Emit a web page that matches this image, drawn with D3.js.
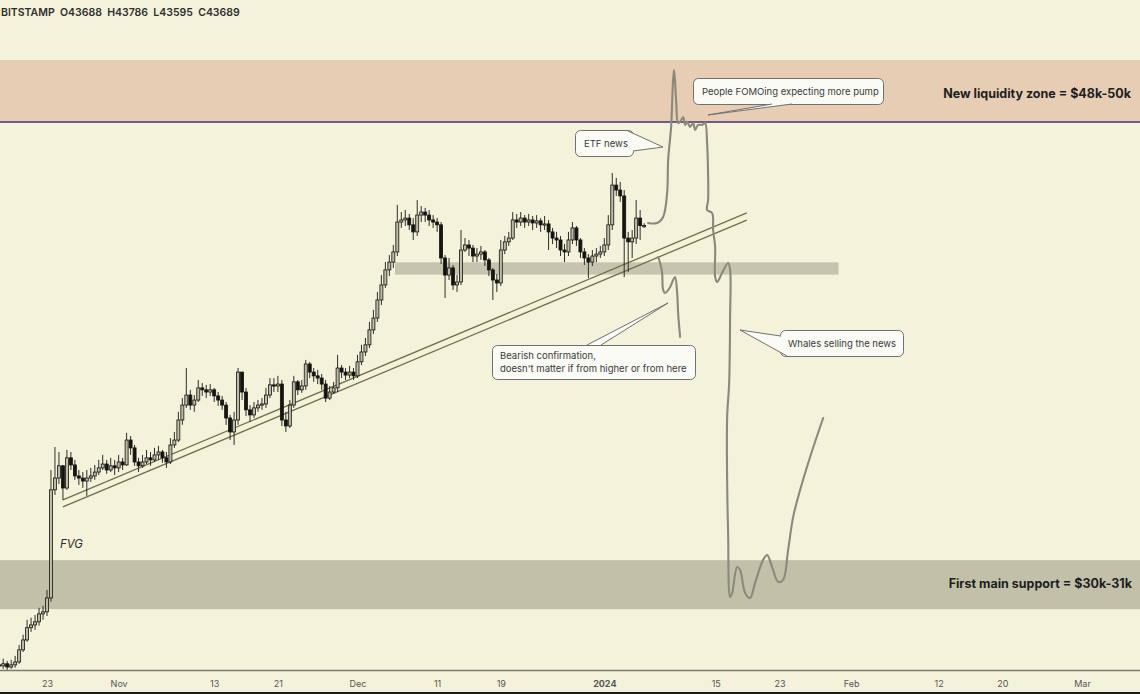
<!DOCTYPE html>
<html><head><meta charset="utf-8">
<script src="https://cdn.jsdelivr.net/npm/d3@7"></script>
<style>
html,body{margin:0;padding:0;background:#f4f2da;}
svg{display:block;}
text{font-family:Inter,"Liberation Sans",Arial,sans-serif;}
</style></head><body>
<svg id="chart" width="1140" height="694"></svg>
<script>
// ---------- DATA ----------
const symbol = "BITSTAMP";
const lastOHLC = {o: 43688, h: 43786, l: 43595, c: 43689};
const candleStart = "2023-10-17T00:00:00Z";   // 12h candles
const firstOpen = 28460;
const closes = [
28430,28490,28400,28460,28540,28880,29160,29510,29590,29680,
29910,29970,30380,33760,34150,34560,33820,34830,34590,34220,
34150,34050,34150,34220,34350,34490,34620,34420,34560,34490,
34690,34590,35440,35170,34690,34560,34690,34830,34760,34930,
35030,34830,34690,35270,35440,36140,36670,37030,36670,36850,
37290,37220,37140,37220,37000,36850,36670,36210,35720,36140,
37870,37140,36500,36320,36570,36670,36710,37030,37400,37360,
37430,36140,35930,36670,37510,37220,37360,38170,37870,37730,
37650,37430,36920,37140,37290,38020,37870,37760,37870,37730,
38250,38620,38890,39460,39920,40630,41230,41840,42160,42580,
43840,43930,44010,43720,43420,44140,44270,44140,43930,43840,
43720,42330,41630,41920,41230,41350,42660,42870,42740,42410,
42490,42580,42250,41840,41430,41310,42660,43000,43160,43930,
43840,44010,43840,43930,43800,43890,43720,43760,43420,43160,
43080,42660,42580,43080,43590,43080,42580,42330,42160,42410,
42490,42580,42870,43720,45450,45230,44970,43160,43000,43160,
44010,43688,43689];
const highs = [
28600,28630,28570,28600,28710,29020,29310,29740,29800,29880,
30090,30150,30620,34420,35200,35030,34590,35100,35030,34760,
34420,34350,34420,34490,34590,34760,34930,34760,34830,34760,
34930,34830,35690,35580,35270,34830,34930,35100,35030,35170,
35240,35100,35030,35510,35720,36430,36920,38020,37220,37030,
37580,37470,37400,37430,37290,37140,37000,36780,36320,36430,
38020,37870,37290,36670,36780,36850,36920,37290,37650,37650,
37730,37580,36430,36850,37730,37580,37580,38320,38250,38020,
37950,37800,37580,37360,37510,38510,38130,38020,38100,38020,
38510,38890,39150,39770,40240,40950,41630,42160,42450,42870,
44580,44270,44360,44190,44010,44790,44530,44450,44360,44140,
44010,43840,42450,42330,42040,41630,43500,43160,43080,42870,
42740,42830,42660,42330,41920,41670,43080,43250,43420,44270,
44190,44270,44140,44190,44100,44140,44010,44100,43930,43590,
43420,43250,42910,43420,43840,43670,43160,42740,42490,42660,
42740,42830,43160,44140,45990,45770,45590,45230,43420,43500,
44790,44360,43786];
const lows = [
28320,28350,28320,28350,28380,28490,28820,29110,29390,29450,
29570,29740,29850,30270,33590,33950,33430,33760,34420,34090,
33920,33820,33560,34020,34090,34250,34420,34290,34350,34250,
34350,34420,34560,34930,34560,34350,34490,34620,34560,34690,
34760,34660,34490,34620,35170,35370,35970,36570,36500,36430,
36780,37000,36920,37000,36780,36640,36500,35970,35440,35270,
35970,36850,36280,36070,36210,36430,36500,36570,36920,37140,
37140,35930,35720,35860,36570,37030,37110,37220,37650,37510,
37430,37220,36780,36850,37070,37140,37650,37580,37650,37580,
37650,38130,38470,38770,39310,39770,40430,41110,41590,41920,
42410,43590,43670,43500,43080,43250,43840,43840,43670,43590,
43420,42080,40710,41430,41030,40950,41230,42580,42410,42160,
42160,42250,42000,41590,40630,40950,41190,42490,42830,43080,
43590,43670,43590,43670,43500,43590,43420,43500,42660,42910,
42740,42410,42160,42410,42910,42830,42330,42040,41510,42000,
42160,42330,42410,42660,43500,44970,44710,41550,41760,42330,
42910,43080,43595];

// x-axis ticks
const tickDates = ["2023-10-23","2023-11-01","2023-11-13","2023-11-21","2023-12-01","2023-12-11","2023-12-19",
                   "2024-01-01","2024-01-15","2024-01-23","2024-02-01","2024-02-12","2024-02-20","2024-03-01"];
const tickLabels = ["23","Nov","13","21","Dec","11","19","2024","15","23","Feb","12","20","Mar"];

// price zones [low, high]
const liquidityZone = [48340, 51350];
const supportZone = [30050, 31520];
const midBand = [41650, 42150];
const midBandDates = ["2023-12-05T17:00:00Z", "2024-01-30T10:00:00Z"];

// rising channel (two parallel lines)
const channelDates = ["2023-10-25T00:00:00Z", "2024-01-18T21:30:00Z"];
const channelUpper = [33430, 44230];
const channelLower = [33200, 43925];

// hand-drawn scenario (days after 2023-10-23, price)
const pathAnchor = "2023-10-23T00:00:00Z";
const scenarioDays = [75.50,76.63,77.39,77.89,78.02,78.39,78.64,78.77,79.02,79.27,79.52,79.90,80.15,80.40,80.78,81.16,
  81.41,81.78,82.29,82.66,82.91,83.04,83.04,82.91,83.54,83.67,83.92,83.92,84.17,84.80,85.55,85.80,85.80,85.68,85.43,
  85.43,85.55,85.80,86.06,86.68,87.06,87.69,88.32,88.94,89.95,90.45,91.08,91.83,92.46,93.09,93.72,94.60,95.85,97.49];
const scenarioPrices = [43800,43800,44060,45100,46580,48100,50360,50850,49380,48290,48340,48570,48200,48340,48100,48290,
  47960,48200,48200,48290,47360,45810,44790,44360,44230,43500,42790,41550,41350,41720,42120,41840,39960,37470,36250,
  33990,32370,30410,30530,31310,31220,30530,30380,30830,31530,31680,31310,30860,30920,31840,32880,33760,34860,36210];
const altDays = [76.76,77.01,77.26,77.39,77.64,78.27,78.64,78.89,79.15,79.27,79.52];
const altPrices = [42370,42120,41720,41030,40910,41150,41430,41550,40910,40120,39190];

// ---------- LAYOUT ----------
const W = 1140, H = 694, axisY = 670;
const svg = d3.select("#chart");
const x = d3.scaleUtc().domain([new Date("2023-10-23T00:00:00Z"), new Date("2024-03-01T00:00:00Z")]).range([47, 1082]);
const y = d3.scaleLog().domain([26000, 52000]).range([757.5, 47.1]);

svg.append("rect").attr("width", W).attr("height", H).attr("fill", "#f4f2da");

const plot = svg.append("g");
plot.append("clipPath").attr("id","clip").append("rect").attr("x",0).attr("y",0).attr("width",W).attr("height",axisY);
const g = plot.append("g").attr("clip-path","url(#clip)");

// zones
g.append("rect").attr("x",0).attr("width",W)
  .attr("y", y(liquidityZone[1])).attr("height", y(liquidityZone[0]) - y(liquidityZone[1]))
  .attr("fill","#e6cdb4");
g.append("rect").attr("x",0).attr("width",W)
  .attr("y", y(supportZone[1])).attr("height", y(supportZone[0]) - y(supportZone[1]))
  .attr("fill","#c2c0a8");
g.append("rect").attr("x", x(new Date(midBandDates[0]))).attr("width", x(new Date(midBandDates[1])) - x(new Date(midBandDates[0])))
  .attr("y", y(midBand[1])).attr("height", y(midBand[0]) - y(midBand[1]))
  .attr("fill","#c6c4ae");
g.append("line").attr("x1",0).attr("x2",W).attr("y1", y(liquidityZone[0])).attr("y2", y(liquidityZone[0]))
  .attr("stroke","#6e5a8c").attr("stroke-width",2);

// channel
const cd = channelDates.map(d => new Date(d));
[channelUpper, channelLower].forEach(p => {
  g.append("line").attr("x1", x(cd[0])).attr("y1", y(p[0])).attr("x2", x(cd[1])).attr("y2", y(p[1]))
    .attr("stroke","#6f6e48").attr("stroke-width",1.3);
});

// candles
const t0 = new Date(candleStart).getTime();
const candles = closes.map((c, i) => ({
  t: new Date(t0 + i * 12 * 3600e3),
  o: i === 0 ? firstOpen : closes[i - 1],
  h: highs[i], l: lows[i], c: c
}));
const bw = 3;
const cg = g.append("g");
cg.selectAll("line.wick").data(candles).join("line")
  .attr("x1", d => x(d.t)).attr("x2", d => x(d.t))
  .attr("y1", d => y(d.h)).attr("y2", d => y(d.l))
  .attr("stroke","#2e2e28").attr("stroke-width",1);
cg.selectAll("rect.body").data(candles).join("rect")
  .attr("x", d => x(d.t) - bw/2).attr("width", bw)
  .attr("y", d => y(Math.max(d.o, d.c)))
  .attr("height", d => Math.max(1.2, Math.abs(y(d.o) - y(d.c))))
  .attr("fill", d => d.c >= d.o ? "#bdbba5" : "#141410")
  .attr("stroke", "#141410").attr("stroke-width", 0.8);

// scenario drawings
const anchor = new Date(pathAnchor).getTime();
const line = d3.line().x(d => x(new Date(anchor + d[0] * 864e5))).y(d => y(d[1])).curve(d3.curveCatmullRom.alpha(0.5));
g.append("path").attr("d", line(scenarioDays.map((d,i)=>[d, scenarioPrices[i]])))
  .attr("fill","none").attr("stroke","#8a897c").attr("stroke-width",2.1).attr("stroke-linejoin","round").attr("stroke-linecap","round");
g.append("path").attr("d", line(altDays.map((d,i)=>[d, altPrices[i]])))
  .attr("fill","none").attr("stroke","#8a897c").attr("stroke-width",2.1).attr("stroke-linejoin","round").attr("stroke-linecap","round");

// callouts (layout in px)
const callouts = [
  {box:[575,130,58,26], tail:[[628,131],[663,147],[633,151]], lines:["ETF news"], tx:584, ty:[147]},
  {box:[693,78,190,26], tail:[[772,104],[708,115],[792,104]], lines:["People FOMOing expecting more pump"], tx:702, ty:[95]},
  {box:[492,345,203,34], tail:[[587,345],[668,303],[601,345]], lines:["Bearish confirmation,","doesn't matter if from higher or from here"], tx:500, ty:[359,372]},
  {box:[780,330,123,26], tail:[[780.5,336],[740,330],[787,356]], lines:["Whales selling the news"], tx:788, ty:[347]}
];
callouts.forEach(c => {
  const [bx,by,bw2,bh] = c.box;
  g.append("rect").attr("x",bx+0.5).attr("y",by+0.5).attr("width",bw2).attr("height",bh).attr("rx",5)
    .attr("fill","#fbfbf5").attr("stroke","#707070").attr("stroke-width",1);
  g.append("path").attr("d", "M"+c.tail.map(p=>p.join(",")).join("L"))
    .attr("fill","#fbfbf5").attr("stroke","#707070").attr("stroke-width",1).attr("stroke-linejoin","miter");
  c.lines.forEach((t,i) => {
    g.append("text").attr("x",c.tx).attr("y",c.ty[i]).text(t)
      .attr("font-size",9.5).attr("fill","#3a3a3a");
  });
});

// zone labels
g.append("text").attr("x",1131).attr("y",98).attr("text-anchor","end").attr("font-size",12.5).attr("font-weight",700)
  .attr("fill","#1e1e1e").text("New liquidity zone = $48k-50k");
g.append("text").attr("x",1132).attr("y",588).attr("text-anchor","end").attr("font-size",12.5).attr("font-weight",700)
  .attr("fill","#1e1e1e").text("First main support = $30k-31k");
g.append("text").attr("x",60).attr("y",548).attr("font-size",11.5).attr("font-style","italic")
  .attr("fill","#2a2a2a").text("FVG");

// header
svg.append("text").attr("x",1).attr("y",16).attr("font-size",10.5).attr("font-weight",600).attr("fill","#2e2e2e")
  .attr("xml:space","preserve")
  .text(`${symbol}  O${lastOHLC.o}  H${lastOHLC.h}  L${lastOHLC.l}  C${lastOHLC.c}`);

// x axis
svg.append("line").attr("x1",0).attr("x2",W).attr("y1",axisY+0.5).attr("y2",axisY+0.5).attr("stroke","#7d7c70").attr("stroke-width",1.5);
const axis = d3.axisBottom(x).tickValues(tickDates.map(d => new Date(d + "T00:00:00Z")))
  .tickFormat((d,i) => tickLabels[i]).tickSize(0);
const ag = svg.append("g").attr("transform",`translate(0,${axisY})`).call(axis);
ag.select(".domain").remove();
ag.selectAll("text").attr("y",17).attr("dy",null).attr("font-size",9).attr("fill","#555")
  .attr("font-family","Inter, 'Liberation Sans', Arial, sans-serif")
  .attr("font-weight",(d,i) => tickLabels[i] === "2024" ? 700 : 400);
svg.append("rect").attr("x",0).attr("y",692).attr("width",W).attr("height",2).attr("fill","#1a1a1a");
</script>
</body></html>
